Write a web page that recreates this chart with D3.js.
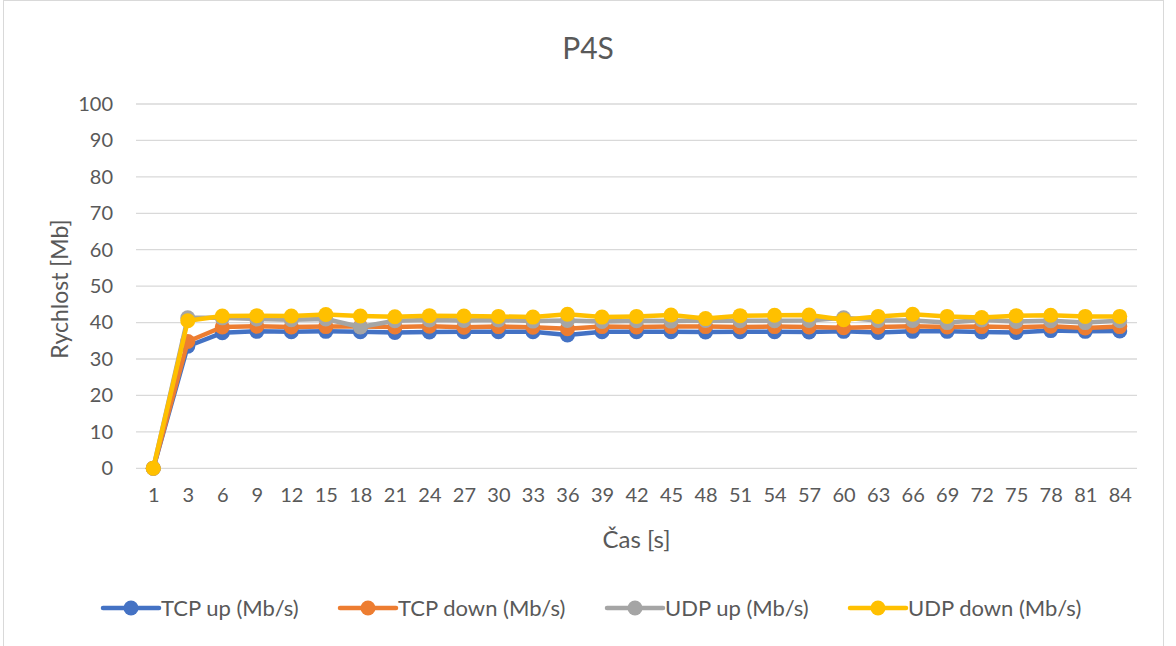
<!DOCTYPE html>
<html><head><meta charset="utf-8">
<script src="https://cdn.jsdelivr.net/npm/d3@7/dist/d3.min.js"></script>
<style>
body{margin:0;background:#fff}
svg{display:block}
text{font-family:Lato,"Open Sans",sans-serif;fill:#595959}
</style>
</head><body>
<svg id="chart" width="1176" height="646"></svg>
<script>
const title = "P4S";
const xTitle = "Čas [s]";
const yTitle = "Rychlost [Mb]";
const categories = [1,3,6,9,12,15,18,21,24,27,30,33,36,39,42,45,48,51,54,57,60,63,66,69,72,75,78,81,84];
const yTicks = [0,10,20,30,40,50,60,70,80,90,100];
const seriesNames = ["TCP up (Mb/s)","TCP down (Mb/s)","UDP up (Mb/s)","UDP down (Mb/s)"];
const seriesColors = ["#4472C4","#ED7D31","#A5A5A5","#FFC000"];
const tcpUp   = [0,33.5,37.2,37.6,37.5,37.6,37.5,37.3,37.4,37.5,37.5,37.5,36.6,37.5,37.5,37.5,37.4,37.5,37.5,37.4,37.6,37.3,37.6,37.6,37.4,37.3,37.8,37.6,37.7];
const tcpDown = [0,34.8,38.8,39.0,38.8,38.9,38.9,38.8,39.0,38.7,38.9,38.7,38.3,38.9,38.8,38.9,38.9,38.8,38.9,38.8,38.6,38.8,39.0,38.8,38.9,38.7,39.0,38.5,38.9];
const udpUp   = [0,41.3,41.3,41.0,40.8,41.0,38.8,40.5,40.7,40.6,40.7,40.4,40.6,40.3,40.5,40.4,40.6,40.5,40.5,40.6,41.3,40.6,40.6,40.0,40.7,40.3,40.5,40.0,40.5];
const udpDown = [0,40.5,41.8,41.9,41.8,42.2,41.8,41.6,41.9,41.8,41.7,41.5,42.3,41.5,41.7,42.1,41.1,41.9,42.0,42.1,40.8,41.7,42.3,41.7,41.4,41.9,42.0,41.7,41.7];
const seriesValues = [tcpUp, tcpDown, udpUp, udpDown];

const svg = d3.select("#chart");
const plot = {left:136, right:1137, top:104, bottom:468.3};

// chart border
svg.append("rect").attr("x",3.5).attr("y",0.5).attr("width",1160).attr("height",700)
  .attr("fill","#fff").attr("stroke","#d9d9d9").attr("stroke-width",1);

const x = d3.scalePoint().domain(categories).range([plot.left, plot.right]).padding(0.5);
const y = d3.scaleLinear().domain([0,100]).range([plot.bottom, plot.top]);

// gridlines
svg.append("g").selectAll("line").data(yTicks).join("line")
  .attr("x1",plot.left).attr("x2",plot.right)
  .attr("y1",d=>y(d)).attr("y2",d=>y(d))
  .attr("stroke","#d9d9d9").attr("stroke-width",1.3);

// y axis
const yAxis = svg.append("g").attr("transform",`translate(${plot.left},0)`)
  .call(d3.axisLeft(y).tickValues(yTicks).tickSize(0).tickPadding(23));
yAxis.select(".domain").remove();
yAxis.selectAll("text").attr("font-size",20).attr("fill","#595959").style("font-family","Lato");

// x axis
const xAxis = svg.append("g").attr("transform",`translate(0,${plot.bottom})`)
  .call(d3.axisBottom(x).tickSize(0).tickPadding(20));
xAxis.select(".domain").remove();
xAxis.selectAll("text").attr("font-size",20).attr("fill","#595959").style("font-family","Lato");

// titles
svg.append("text").attr("x",588).attr("y",59)
  .attr("text-anchor","middle").attr("font-size",30).text(title);
svg.append("text").attr("x",(plot.left+plot.right)/2).attr("y",548)
  .attr("text-anchor","middle").attr("font-size",24).text(xTitle);
svg.append("text").attr("transform","translate(68,289) rotate(-90)")
  .attr("text-anchor","middle").attr("font-size",23).text(yTitle);

// series
const line = d3.line().x((d,i)=>x(categories[i])).y(d=>y(d));
seriesValues.forEach((vals,k)=>{
  const g = svg.append("g");
  g.append("path").datum(vals).attr("d",line)
    .attr("fill","none").attr("stroke",seriesColors[k]).attr("stroke-width",4.5)
    .attr("stroke-linejoin","round").attr("stroke-linecap","round");
  g.selectAll("circle").data(vals).join("circle")
    .attr("cx",(d,i)=>x(categories[i])).attr("cy",d=>y(d)).attr("r",7.5)
    .attr("fill",seriesColors[k]);
});

// legend
const legendX = [103, 340, 607, 850];
const legY = 608;
seriesNames.forEach((name,k)=>{
  const g = svg.append("g").attr("transform",`translate(${legendX[k]},${legY})`);
  g.append("line").attr("x1",0).attr("x2",56).attr("y1",0).attr("y2",0)
    .attr("stroke",seriesColors[k]).attr("stroke-width",4.5).attr("stroke-linecap","round");
  g.append("circle").attr("cx",28).attr("cy",0).attr("r",7.5).attr("fill",seriesColors[k]);
  g.append("text").attr("x",58).attr("y",8).attr("font-size",22).text(name);
});
</script>
</body></html>
